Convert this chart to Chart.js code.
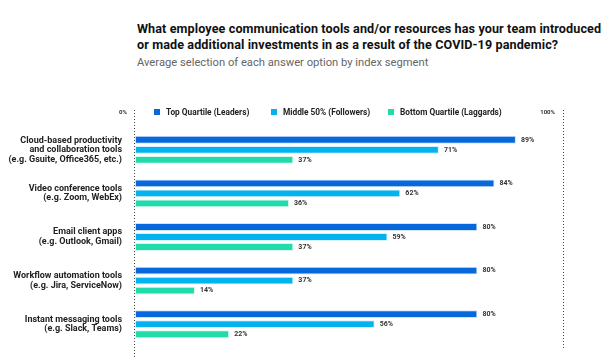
<!DOCTYPE html>
<html>
<head>
<meta charset="utf-8">
<script src="https://cdn.jsdelivr.net/npm/chart.js@4"></script>
<style>
  body { margin: 0; background: #fff; width: 616px; height: 359px; overflow: hidden; position: relative; font-family: Roboto, "Liberation Sans", sans-serif; }
  #title { position: absolute; left: 137px; top: 21px; font-size: 12.6px; font-weight: bold; color: #111; line-height: 16px; letter-spacing: 0.1px; }
  #sub { position: absolute; left: 137px; top: 56px; font-size: 11.2px; color: #666; }
  #wrap { position: absolute; left: 0; top: 0; width: 616px; height: 359px; }
</style>
</head>
<body>
<div id="title">What employee communication tools and/or resources has your team introduced<br>or made additional investments in as a result of the COVID-19 pandemic?</div>
<div id="sub">Average selection of each answer option by index segment</div>
<div id="wrap"><canvas id="chart"></canvas></div>
<script>
var categories = [
  ["Cloud-based productivity", "and collaboration tools", "(e.g. Gsuite, Office365, etc.)"],
  ["Video conference tools", "(e.g. Zoom, WebEx)"],
  ["Email client apps", "(e.g. Outlook, Gmail)"],
  ["Workflow automation tools", "(e.g. Jira, ServiceNow)"],
  ["Instant messaging tools", "(e.g. Slack, Teams)"]
];
var seriesNames = ["Top Quartile (Leaders)", "Middle 50% (Followers)", "Bottom Quartile (Laggards)"];
var leaders = [89, 84, 80, 80, 80];
var followers = [71, 62, 59, 37, 56];
var laggards = [37, 36, 37, 14, 22];
var axisLabels = ["0%", "100%"];
var colors = ["#0767dc", "#02b3f0", "#22dbaa"];

var extras = {
  id: "extras",
  afterDatasetsDraw: function(chart) {
    var ctx = chart.ctx;
    var area = chart.chartArea;
    ctx.save();
    // value labels
    ctx.font = "bold 7px Roboto, sans-serif";
    ctx.fillStyle = "#333";
    ctx.textBaseline = "middle";
    ctx.textAlign = "left";
    chart.data.datasets.forEach(function(ds, i) {
      chart.getDatasetMeta(i).data.forEach(function(bar, j) {
        ctx.fillText(ds.data[j] + "%", bar.x + 5, bar.y);
      });
    });
    // dotted lines
    ctx.strokeStyle = "#444";
    ctx.lineWidth = 1;
    ctx.setLineDash([1, 2]);
    ctx.beginPath();
    ctx.moveTo(area.left - 0.5, 110);
    ctx.lineTo(area.left - 0.5, 359);
    ctx.moveTo(area.right + 0.5, 110);
    ctx.lineTo(area.right + 0.5, 350);
    ctx.stroke();
    ctx.setLineDash([]);
    // axis end labels
    ctx.font = "bold 6px Roboto, sans-serif";
    ctx.fillStyle = "#333";
    ctx.textAlign = "right";
    ctx.fillText(axisLabels[0], area.left - 8, 112);
    ctx.fillText(axisLabels[1], area.right - 8, 112);
    // legend
    var lx = [154, 271, 388];
    ctx.font = "bold 8.3px Roboto, sans-serif";
    ctx.textAlign = "left";
    seriesNames.forEach(function(n, i) {
      ctx.fillStyle = colors[i];
      ctx.fillRect(lx[i], 109, 6, 6);
      ctx.fillStyle = "#222";
      ctx.fillText(n, lx[i] + 12, 112.5);
    });
    ctx.restore();
  }
};

new Chart(document.getElementById("chart"), {
  type: "bar",
  data: {
    labels: categories,
    datasets: [
      { label: seriesNames[0], data: leaders, backgroundColor: colors[0], borderColor: "#cfe3fb", borderWidth: 1, borderSkipped: false },
      { label: seriesNames[1], data: followers, backgroundColor: colors[1], borderColor: "#d4f1fc", borderWidth: 1, borderSkipped: false },
      { label: seriesNames[2], data: laggards, backgroundColor: colors[2], borderColor: "#d6f7ee", borderWidth: 1, borderSkipped: false }
    ]
  },
  options: {
    indexAxis: "y",
    responsive: true,
    maintainAspectRatio: false,
    animation: false,
    categoryPercentage: 0.69,
    barPercentage: 0.78,
    layout: { padding: { left: 0, right: 53, top: 128, bottom: 13 } },
    plugins: { legend: { display: false }, tooltip: { enabled: false } },
    scales: {
      x: { display: false, min: 0, max: 100 },
      y: {
        grid: { display: false, drawTicks: false },
        border: { display: false },
        afterFit: function(scale) {
          scale.width = 135;
          scale.paddingTop = 0;
          scale.paddingBottom = 0;
        },
        ticks: {
          padding: 13,
          color: "#222",
          font: { family: "Roboto, sans-serif", size: 9, weight: "bold", lineHeight: 1.06 }
        }
      }
    }
  },
  plugins: [extras]
});
</script>
</body>
</html>
